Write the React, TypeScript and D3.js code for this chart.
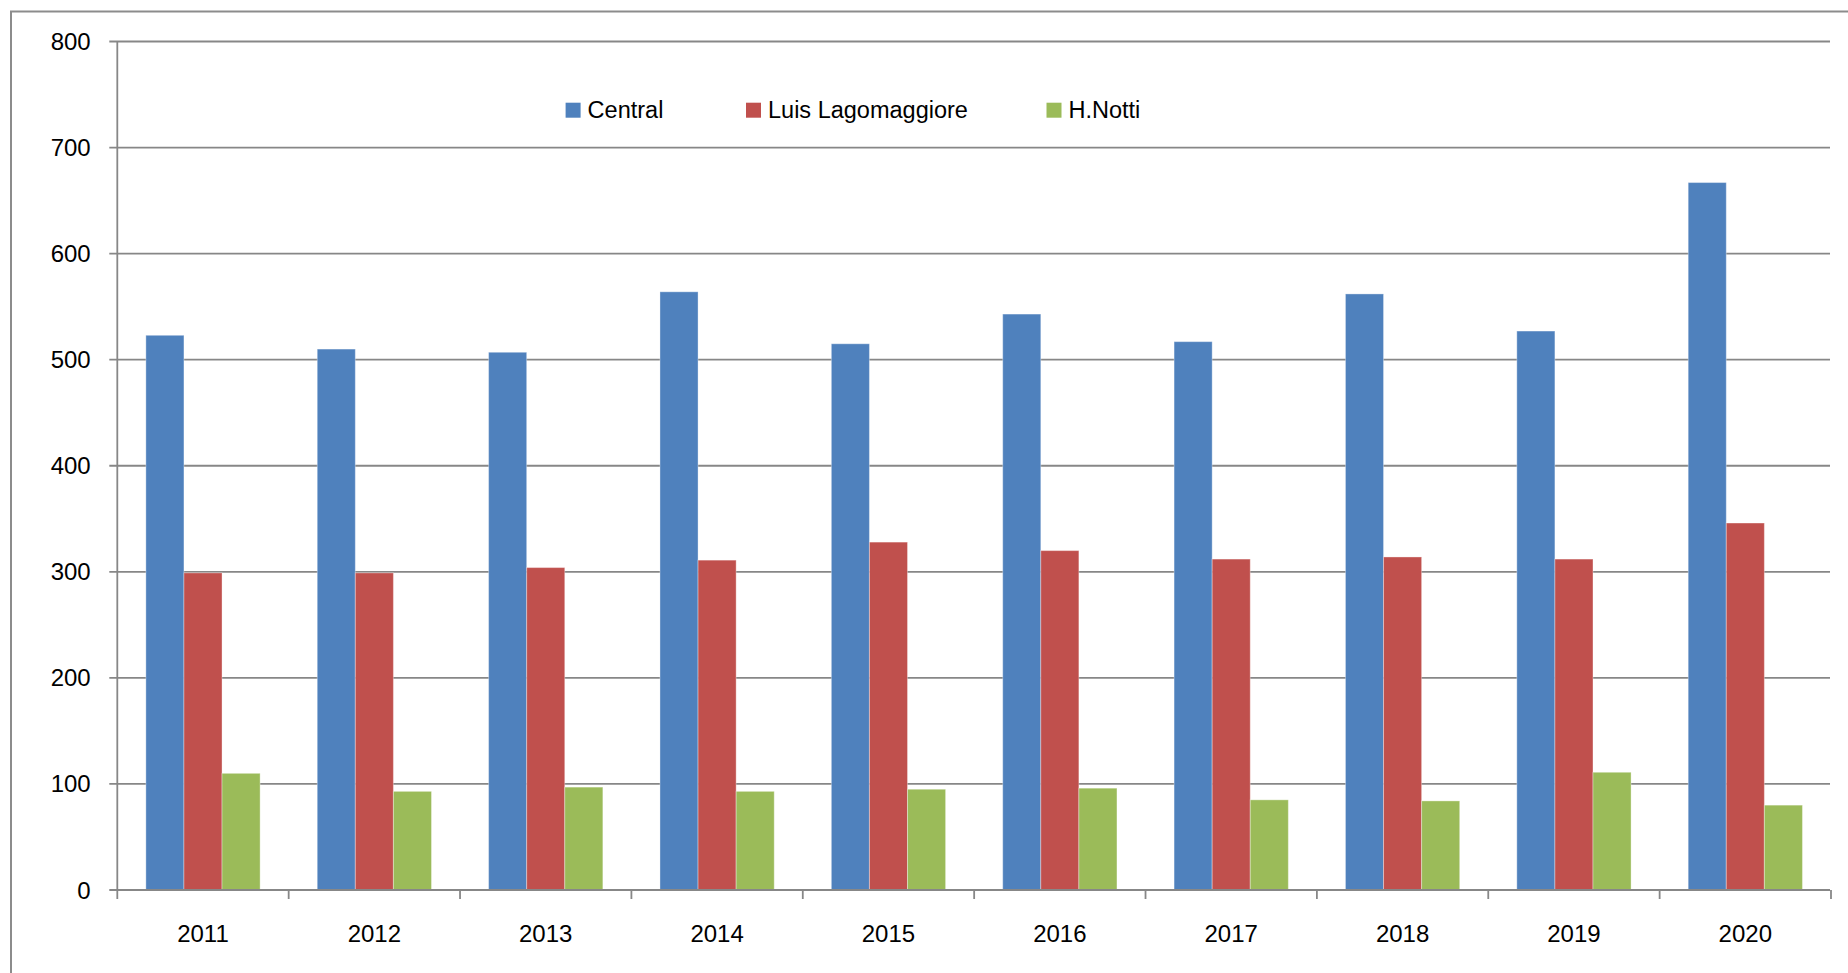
import React from "react";
import * as d3 from "d3";

const years = ["2011", "2012", "2013", "2014", "2015", "2016", "2017", "2018", "2019", "2020"];
const seriesNames = ["Central", "Luis Lagomaggiore", "H.Notti"];
const central = [523, 510, 507, 564, 515, 543, 517, 562, 527, 667];
const lagomaggiore = [299, 299, 304, 311, 328, 320, 312, 314, 312, 346];
const notti = [110, 93, 97, 93, 95, 96, 85, 84, 111, 80];
const yTicks = [0, 100, 200, 300, 400, 500, 600, 700, 800];
const colors = ["#4F81BD", "#C0504D", "#9BBB59"];

const W = 1848;
const H = 973;
const plotLeft = 117.3;
const plotRight = 1831;
const plotTop = 41.5;
const plotBottom = 890;
const gridColor = "#878787";
const numFont = "'Liberation Sans', Arial, sans-serif";
const legendFont = "'Liberation Sans', Arial, sans-serif";

export default function App() {
  const values = [central, lagomaggiore, notti];
  const x0 = d3.scaleBand<string>().domain(years).range([plotLeft, plotRight]).paddingInner(0).paddingOuter(0);
  const x1 = d3
    .scaleBand<string>()
    .domain(seriesNames)
    .range([0, x0.bandwidth()])
    .paddingInner(0)
    .paddingOuter(0.75);
  const y = d3.scaleLinear().domain([0, 800]).range([plotBottom, plotTop]);

  const legendX = [565.6, 746, 1046.5];
  const legendY = 102.7;

  return (
    <div style={{ position: "absolute", left: 0, top: 0, width: W, height: H, overflow: "hidden" }}>
      <svg width={W} height={H} style={{ display: "block", background: "#fff" }}>
        {/* outer chart border */}
        <path d={`M11,${H} V11.5 H${W}`} fill="none" stroke="#8c8c8c" strokeWidth={2} />

        {/* gridlines + y ticks */}
        {yTicks.map((t) => (
          <line
            key={"g" + t}
            x1={plotLeft - 8}
            x2={plotRight - 1}
            y1={y(t)}
            y2={y(t)}
            stroke={gridColor}
            strokeWidth={1.8}
          />
        ))}
        {yTicks.map((t) => (
          <text
            key={"yl" + t}
            x={90.7}
            y={y(t) + 8.5}
            textAnchor="end"
            fontFamily={numFont}
            fontSize={24}
            fill="#000"
          >
            {t}
          </text>
        ))}

        {/* bars */}
        {years.map((yr, i) => (
          <g key={yr}>
            {seriesNames.map((s, k) => {
              const v = values[k][i];
              const bx = (x0(yr) as number) + (x1(s) as number);
              return (
                <rect
                  key={s}
                  x={bx}
                  y={y(v)}
                  width={x1.bandwidth()}
                  height={y(0) - y(v)}
                  fill={colors[k]}
                  stroke="rgba(255,255,255,0.35)"
                  strokeWidth={1}
                />
              );
            })}
          </g>
        ))}

        {/* y axis */}
        <line x1={plotLeft} x2={plotLeft} y1={plotTop} y2={plotBottom + 9} stroke={gridColor} strokeWidth={1.8} />
        {/* x axis */}
        <line x1={plotLeft} x2={plotRight - 1} y1={plotBottom} y2={plotBottom} stroke={gridColor} strokeWidth={1.8} />
        {years.map((yr) => (
          <line
            key={"xt" + yr}
            x1={(x0(yr) as number) + x0.bandwidth()}
            x2={(x0(yr) as number) + x0.bandwidth()}
            y1={plotBottom}
            y2={plotBottom + 9}
            stroke={gridColor}
            strokeWidth={1.8}
          />
        ))}
        {years.map((yr) => (
          <text
            key={"xl" + yr}
            x={(x0(yr) as number) + x0.bandwidth() / 2}
            y={941.7}
            textAnchor="middle"
            fontFamily={numFont}
            fontSize={24}
            fill="#000"
          >
            {yr}
          </text>
        ))}

        {/* legend */}
        {seriesNames.map((s, k) => (
          <g key={"lg" + s}>
            <rect x={legendX[k]} y={legendY} width={15} height={15} fill={colors[k]} />
            <text
              x={legendX[k] + 22}
              y={117.7}
              fontFamily={legendFont}
              fontSize={23.5}
              fill="#000"
            >
              {s}
            </text>
          </g>
        ))}
      </svg>
    </div>
  );
}
